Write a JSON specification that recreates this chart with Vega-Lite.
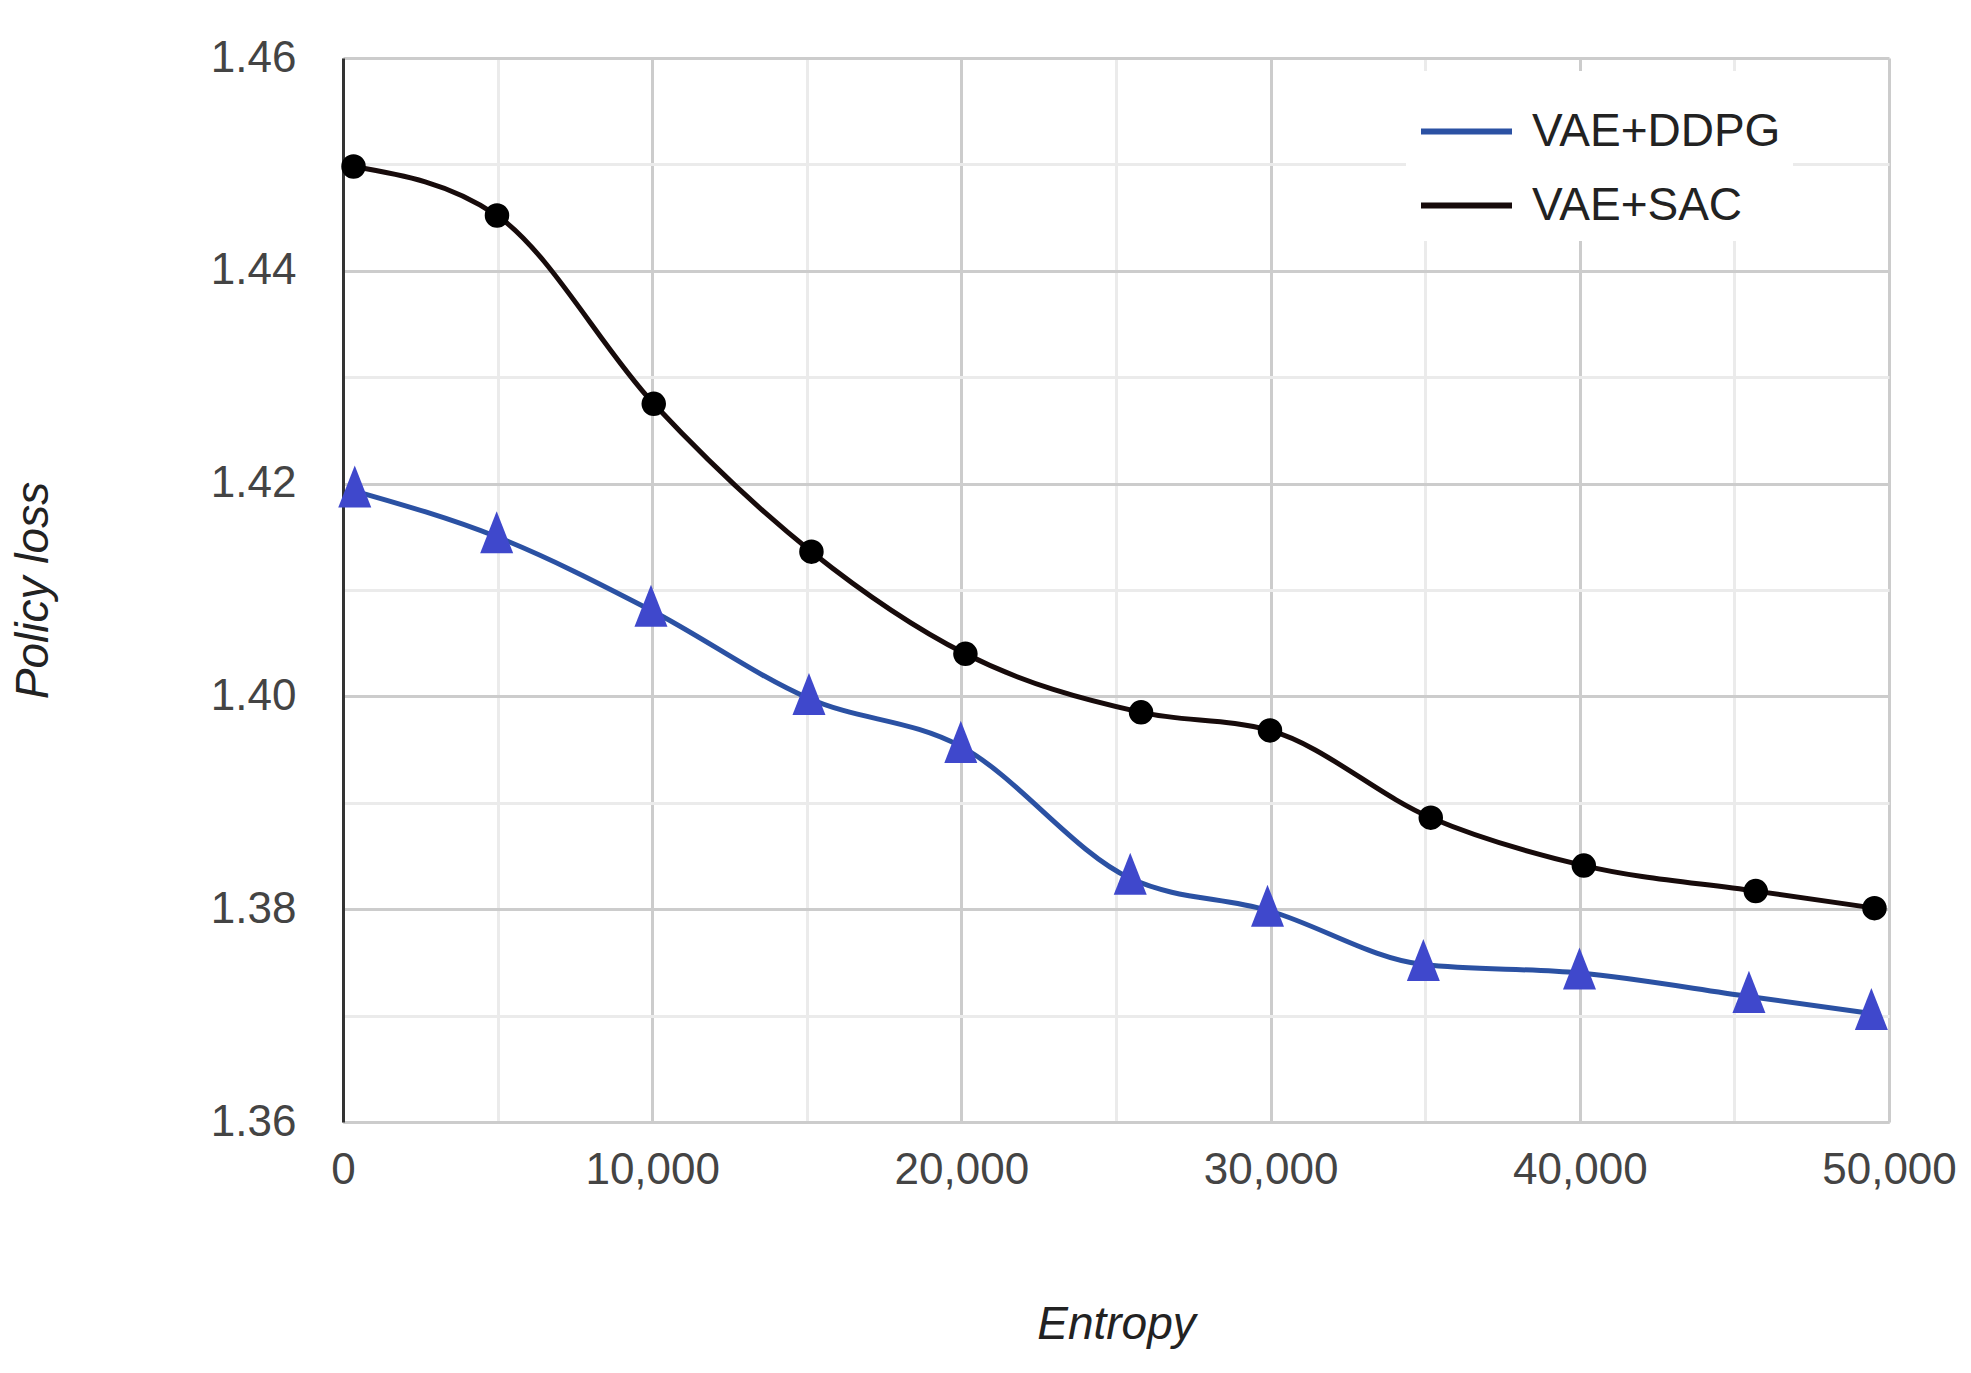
{
  "$schema": "https://vega.github.io/schema/vega-lite/v6.json",
  "autosize": {"type": "none"},
  "padding": {"left": 343, "top": 58, "right": 82, "bottom": 251},
  "width": 1546,
  "height": 1064,
  "background": "white",
  "config": {
    "view": {"stroke": null},
    "font": "Liberation Sans"
  },
  "data": {
    "values": [
      {"series": "VAE+DDPG", "entropy": 380, "loss": 1.4193},
      {"series": "VAE+DDPG", "entropy": 4970, "loss": 1.4150},
      {"series": "VAE+DDPG", "entropy": 9960, "loss": 1.4081},
      {"series": "VAE+DDPG", "entropy": 15070, "loss": 1.3998},
      {"series": "VAE+DDPG", "entropy": 19980, "loss": 1.3953},
      {"series": "VAE+DDPG", "entropy": 25460, "loss": 1.3829},
      {"series": "VAE+DDPG", "entropy": 29900, "loss": 1.3799},
      {"series": "VAE+DDPG", "entropy": 34940, "loss": 1.3748},
      {"series": "VAE+DDPG", "entropy": 39990, "loss": 1.3740},
      {"series": "VAE+DDPG", "entropy": 45470, "loss": 1.3718},
      {"series": "VAE+DDPG", "entropy": 49430, "loss": 1.3702},
      {"series": "VAE+SAC", "entropy": 340, "loss": 1.4498},
      {"series": "VAE+SAC", "entropy": 4980, "loss": 1.4452},
      {"series": "VAE+SAC", "entropy": 10050, "loss": 1.4275},
      {"series": "VAE+SAC", "entropy": 15150, "loss": 1.4136},
      {"series": "VAE+SAC", "entropy": 20130, "loss": 1.4040},
      {"series": "VAE+SAC", "entropy": 25810, "loss": 1.3985},
      {"series": "VAE+SAC", "entropy": 29980, "loss": 1.3968},
      {"series": "VAE+SAC", "entropy": 35180, "loss": 1.3886},
      {"series": "VAE+SAC", "entropy": 40130, "loss": 1.3841},
      {"series": "VAE+SAC", "entropy": 45690, "loss": 1.3817},
      {"series": "VAE+SAC", "entropy": 49530, "loss": 1.3801}
    ]
  },
  "encoding": {
    "x": {
      "field": "entropy",
      "type": "quantitative",
      "scale": {"domain": [0, 50000], "nice": false, "zero": false},
      "axis": {
        "title": "Entropy",
        "values": [0, 5000, 10000, 15000, 20000, 25000, 30000, 35000, 40000, 45000, 50000],
        "labelExpr": "datum.value % 10000 == 0 ? format(datum.value, ',') : ''",
        "labelOverlap": false,
        "labelFlush": false,
        "labelFont": "Liberation Sans",
        "labelFontSize": 44,
        "labelColor": "#444444",
        "labelPadding": 26,
        "ticks": false,
        "tickSize": 0,
        "grid": true,
        "gridColor": {"condition": {"test": "datum.value % 10000 == 0", "value": "#cccccc"}, "value": "#ebebeb"},
        "gridWidth": 3,
        "domainColor": "#cccccc",
        "domainWidth": 3,
        "titleFont": "Liberation Sans",
        "titleFontSize": 46,
        "titleFontStyle": "italic",
        "titleFontWeight": "normal",
        "titleColor": "#222222",
        "titlePadding": 110
      }
    },
    "y": {
      "field": "loss",
      "type": "quantitative",
      "scale": {"domain": [1.36, 1.46], "nice": false, "zero": false},
      "axis": {
        "title": "Policy loss",
        "values": [1.36, 1.37, 1.38, 1.39, 1.40, 1.41, 1.42, 1.43, 1.44, 1.45, 1.46],
        "labelExpr": "round(datum.value * 100) % 2 == 0 ? format(datum.value, '.2f') : ''",
        "labelOverlap": false,
        "labelFont": "Liberation Sans",
        "labelFontSize": 44,
        "labelColor": "#444444",
        "labelPadding": 47,
        "ticks": false,
        "tickSize": 0,
        "grid": true,
        "gridColor": {"condition": {"test": "round(datum.value * 100) % 2 == 0", "value": "#cccccc"}, "value": "#ebebeb"},
        "gridWidth": 3,
        "domainColor": "#333333",
        "domainWidth": 3,
        "titleFont": "Liberation Sans",
        "titleFontSize": 46,
        "titleFontStyle": "italic",
        "titleFontWeight": "normal",
        "titleColor": "#222222",
        "titlePadding": 153
      }
    }
  },
  "layer": [
    {
      "mark": {"type": "line", "interpolate": "monotone", "strokeWidth": 5},
      "encoding": {
        "color": {
          "field": "series",
          "type": "nominal",
          "scale": {"domain": ["VAE+DDPG", "VAE+SAC"], "range": ["#2b51a3", "#170b0b"]},
          "legend": {
            "title": null,
            "orient": "none",
            "legendX": 1063,
            "legendY": 13,
            "symbolType": "stroke",
            "symbolSize": 8281,
            "symbolStrokeWidth": 6,
            "labelFont": "Liberation Sans",
            "labelFontSize": 46,
            "labelColor": "#222222",
            "labelLimit": 500,
            "labelOffset": 17,
            "rowPadding": 2,
            "padding": 12,
            "fillColor": "white"
          }
        }
      }
    },
    {
      "transform": [{"filter": "datum.series == 'VAE+DDPG'"}],
      "mark": {"type": "point", "filled": true, "shape": "M0,-1.55L1,1L-1,1Z", "size": 1089, "color": "#3f48cc", "opacity": 1}
    },
    {
      "transform": [{"filter": "datum.series == 'VAE+SAC'"}],
      "mark": {"type": "point", "filled": true, "shape": "circle", "size": 600, "color": "#000000", "opacity": 1}
    }
  ]
}
